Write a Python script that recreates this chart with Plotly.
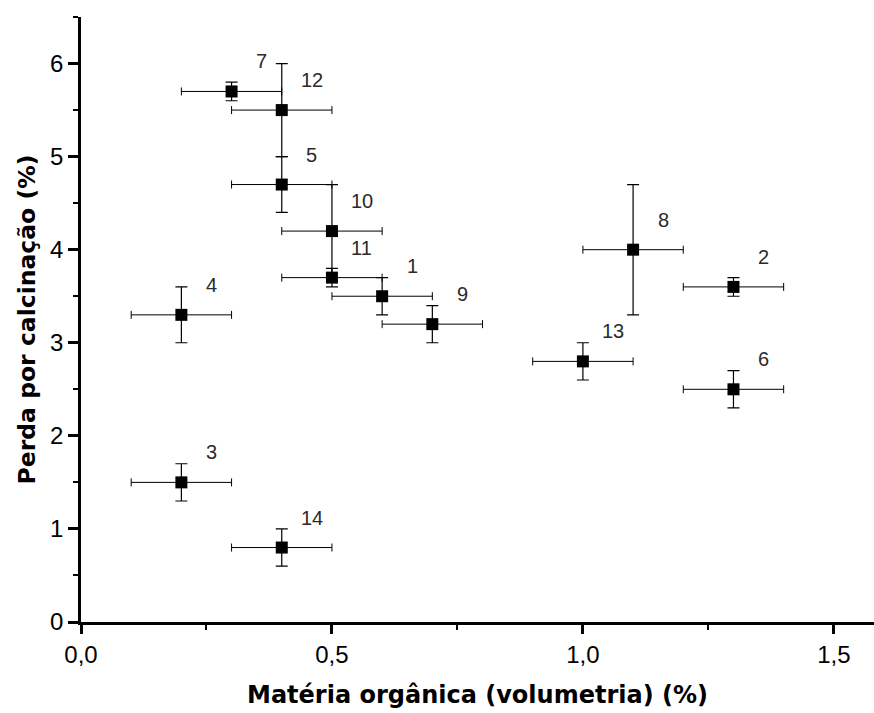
import plotly.graph_objects as go

labels = ["1", "2", "3", "4", "5", "6", "7", "8", "9", "10", "11", "12", "13", "14"]
materia_organica = [0.6, 1.3, 0.2, 0.2, 0.4, 1.3, 0.3, 1.1, 0.7, 0.5, 0.5, 0.4, 1.0, 0.4]
perda_calcinacao = [3.5, 3.6, 1.5, 3.3, 4.7, 2.5, 5.7, 4.0, 3.2, 4.2, 3.7, 5.5, 2.8, 0.8]
erro_x = [0.1] * 14
erro_y = [0.2, 0.1, 0.2, 0.3, 0.3, 0.2, 0.1, 0.7, 0.2, 0.5, 0.1, 0.5, 0.2, 0.2]

fig = go.Figure()
fig.add_trace(go.Scatter(
    x=materia_organica, y=perda_calcinacao, mode="markers",
    marker=dict(symbol="square", size=12, color="black"),
    error_x=dict(type="data", array=erro_x, color="black", thickness=1, width=4),
    error_y=dict(type="data", array=erro_y, color="black", thickness=1.2, width=6),
    showlegend=False, cliponaxis=False,
))
for lab, xv, yv in zip(labels, materia_organica, perda_calcinacao):
    fig.add_annotation(x=xv, y=yv, text=lab, showarrow=False, xshift=30, yshift=30,
                       font=dict(family="Liberation Sans", size=20, color="#2a2a2a"))

fig.update_layout(
    width=874, height=713, paper_bgcolor="white", plot_bgcolor="white",
    margin=dict(l=81, r=0, t=17, b=91),
    separators=",.",
    font=dict(family="Liberation Sans", size=24, color="black"),
    xaxis=dict(range=[0, 1.58], dtick=0.5, tick0=0, tickformat=".1f",
               showline=True, linecolor="black", linewidth=2.5, showgrid=False, zeroline=False,
               ticks="outside", ticklen=9, tickwidth=2.5, tickcolor="black",
               tickfont=dict(family="Liberation Sans", size=24),
               minor=dict(ticks="outside", dtick=0.25, ticklen=5, tickwidth=2, tickcolor="black"),
               title=dict(text="<b>Matéria orgânica (volumetria) (%)</b>", standoff=20,
                          font=dict(family="DejaVu Sans", size=24))),
    yaxis=dict(range=[0, 6.5], dtick=1, tick0=0,
               showline=True, linecolor="black", linewidth=2.5, showgrid=False, zeroline=False,
               ticks="outside", ticklen=10, tickwidth=2.5, tickcolor="black",
               tickfont=dict(family="Liberation Sans", size=24),
               minor=dict(ticks="outside", dtick=0.5, ticklen=5, tickwidth=2, tickcolor="black"),
               title=dict(text="<b>Perda por calcinação (%)</b>", standoff=8,
                          font=dict(family="DejaVu Sans", size=23.5))),
)
fig.write_html("out.html")
